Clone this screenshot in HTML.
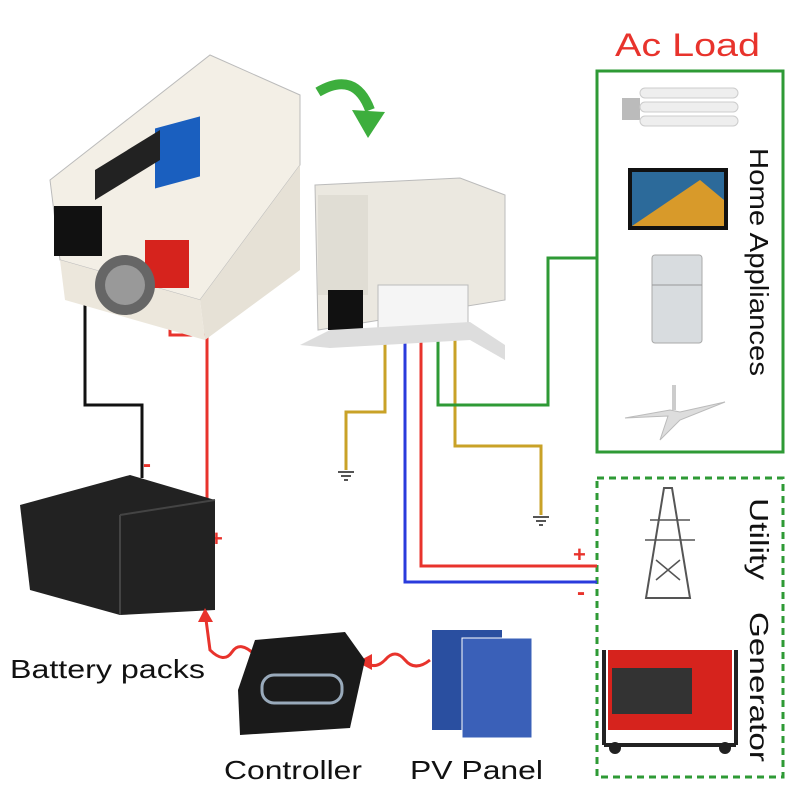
<!DOCTYPE html>
<html><head><meta charset="utf-8"><style>
html,body{margin:0;padding:0;background:#fff}
svg{display:block}
text{font-family:"Liberation Sans",Arial,sans-serif}
</style></head><body>
<svg width="800" height="800" viewBox="0 0 800 800" xmlns="http://www.w3.org/2000/svg">
<rect width="800" height="800" fill="#fff"/>

<!-- Ac Load -->
<text x="615" y="56" font-size="32" fill="#e8332c" textLength="145" lengthAdjust="spacingAndGlyphs">Ac Load</text>
<rect x="597" y="71" width="186" height="381" fill="none" stroke="#2e9a35" stroke-width="3"/>
<text transform="translate(750,148) rotate(90)" font-size="26" fill="#111" textLength="228" lengthAdjust="spacingAndGlyphs">Home Appliances</text>
<rect x="597" y="478" width="186" height="299" fill="none" stroke="#2e9a35" stroke-width="3" stroke-dasharray="7,5"/>
<text transform="translate(750,498) rotate(90)" font-size="26" fill="#111" textLength="82" lengthAdjust="spacingAndGlyphs">Utility</text>
<text transform="translate(750,612) rotate(90)" font-size="26" fill="#111" textLength="150" lengthAdjust="spacingAndGlyphs">Generator</text>

<!-- bulb -->
<rect x="622" y="98" width="18" height="22" fill="#bbb"/>
<rect x="640" y="88" width="98" height="10" rx="5" fill="#eee" stroke="#ccc"/>
<rect x="640" y="102" width="98" height="10" rx="5" fill="#eee" stroke="#ccc"/>
<rect x="640" y="116" width="98" height="10" rx="5" fill="#eee" stroke="#ccc"/>
<!-- tv -->
<rect x="628" y="168" width="100" height="62" fill="#111"/>
<rect x="632" y="172" width="92" height="54" fill="#2c6a9a"/>
<path d="M632 226 L700 180 L724 200 L724 226Z" fill="#d89a2a"/>
<!-- fridge -->
<rect x="652" y="255" width="50" height="88" rx="3" fill="#d8dcdf" stroke="#aaa"/>
<line x1="652" y1="285" x2="702" y2="285" stroke="#999"/>
<!-- fan -->
<path d="M625 418 L670 410 L680 412 L725 402 L680 420 L660 440 L668 416Z" fill="#ddd" stroke="#bbb"/>
<rect x="672" y="385" width="4" height="25" fill="#ccc"/>
<!-- tower -->
<path d="M664 488 L672 488 L690 598 L646 598Z" fill="none" stroke="#555" stroke-width="2"/>
<path d="M650 520 L690 520 M645 540 L695 540 M656 560 L680 580 M680 560 L656 580" stroke="#555" stroke-width="1.5"/>
<!-- generator -->
<rect x="608" y="650" width="124" height="80" fill="#d6231d"/>
<rect x="612" y="668" width="80" height="46" fill="#333"/>
<path d="M604 650 L604 745 M736 650 L736 745 M604 745 L736 745" stroke="#222" stroke-width="4" fill="none"/>
<circle cx="615" cy="748" r="6" fill="#222"/><circle cx="725" cy="748" r="6" fill="#222"/>

<!-- wires from unit 2 -->
<g fill="none" stroke-width="3">
<path d="M385 335 V412 H346 V470" stroke="#c9a227"/>
<path d="M455 335 V446 H541 V515" stroke="#c9a227"/>
<path d="M405 335 V582 H597" stroke="#2a3bdc"/>
<path d="M421 335 V566 H597" stroke="#e8332c"/>
<path d="M438 335 V405 H548 V258 H597" stroke="#2e9a35"/>
</g>
<path d="M338 472 H354 M341 476 H351 M344 480 H348" stroke="#555" stroke-width="2"/>
<path d="M533 517 H549 M536 521 H546 M539 525 H543" stroke="#555" stroke-width="2"/>
<text x="573" y="562" font-size="22" font-weight="bold" fill="#e8332c">+</text>
<text x="577" y="600" font-size="24" font-weight="bold" fill="#e8332c">-</text>

<!-- wires from inverter to battery -->
<path d="M85 290 V405 H142 V478" fill="none" stroke="#111" stroke-width="3"/>
<path d="M170 285 V335 H207 V540" fill="none" stroke="#e8332c" stroke-width="3"/>
<text x="143" y="472" font-size="24" font-weight="bold" fill="#e8332c">-</text>
<text x="210" y="546" font-size="22" font-weight="bold" fill="#e8332c">+</text>

<!-- inverter -->
<path d="M50 180 L210 55 L300 95 L300 165 L200 300 L60 260Z" fill="#f3efe6" stroke="#bbb"/>
<path d="M200 300 L300 165 L300 270 L205 340Z" fill="#e6e1d6"/>
<path d="M60 260 L200 300 L205 340 L65 300Z" fill="#ece7dc"/>
<rect x="155" y="125" width="45" height="60" fill="#1a5fbf" transform="skewY(-15) translate(0,45)"/>
<path d="M95 170 L160 130 L160 160 L95 200Z" fill="#222"/>
<rect x="54" y="206" width="48" height="50" fill="#111"/>
<rect x="145" y="240" width="44" height="48" fill="#d6231d"/>
<circle cx="125" cy="285" r="30" fill="#666"/>
<circle cx="125" cy="285" r="20" fill="#999"/>

<!-- green arrow -->
<path d="M318 92 Q355 70 370 110" fill="none" stroke="#3dae3d" stroke-width="10"/>
<path d="M352 110 L385 112 L368 138Z" fill="#3dae3d"/>

<!-- unit 2 -->
<path d="M315 185 L460 178 L505 195 L505 300 L318 330Z" fill="#ebe8e0" stroke="#bbb"/>
<rect x="318" y="195" width="50" height="100" fill="#e0ddd4"/>
<rect x="328" y="290" width="35" height="40" fill="#111"/>
<rect x="378" y="285" width="90" height="50" fill="#f5f5f5" stroke="#bbb"/>
<path d="M300 345 L330 330 L470 322 L505 345 L505 360 L470 340 L330 348Z" fill="#ddd"/>

<!-- battery -->
<path d="M20 505 L130 475 L215 500 L215 610 L120 615 L30 590Z" fill="#222"/>
<path d="M120 515 L215 500 M120 515 L120 615" stroke="#444" stroke-width="2"/>
<text x="10" y="678" font-size="26" fill="#111" textLength="195" lengthAdjust="spacingAndGlyphs">Battery packs</text>

<!-- red wavy arrows -->
<path d="M255 655 Q240 640 232 652 Q224 664 210 650 L205 612" fill="none" stroke="#e8332c" stroke-width="3"/>
<path d="M198 622 L205 608 L213 622Z" fill="#e8332c"/>
<path d="M430 660 Q415 672 405 660 Q395 648 385 660 Q375 670 365 662" fill="none" stroke="#e8332c" stroke-width="3"/>
<path d="M372 654 L357 662 L372 670Z" fill="#e8332c"/>

<!-- controller -->
<path d="M255 640 L345 632 L365 660 L350 728 L240 735 L238 690Z" fill="#1a1a1a"/>
<rect x="262" y="675" width="80" height="28" rx="12" fill="none" stroke="#9ab" stroke-width="3"/>
<text x="224" y="779" font-size="26" fill="#111" textLength="138" lengthAdjust="spacingAndGlyphs">Controller</text>

<!-- PV panel -->
<rect x="432" y="630" width="70" height="100" fill="#2a4fa0"/>
<rect x="462" y="638" width="70" height="100" fill="#3a60b8" stroke="#fff"/>
<text x="410" y="779" font-size="26" fill="#111" textLength="133" lengthAdjust="spacingAndGlyphs">PV Panel</text>
</svg>
</body></html>
